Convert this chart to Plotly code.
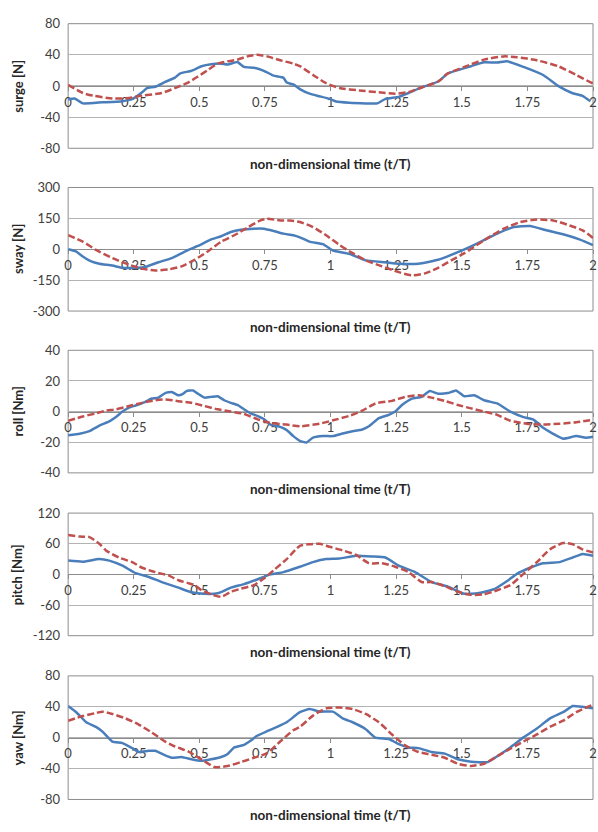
import plotly.graph_objects as go

# ---------------- data ----------------
tick_vals = [0, 0.25, 0.5, 0.75, 1, 1.25, 1.5, 1.75, 2]
tick_text = ["0", "0.25", "0.5", "0.75", "1", "1.25", "1.5", "1.75", "2"]

panel_titles = ["surge [N]", "sway [N]", "roll [Nm]", "pitch [Nm]", "yaw [Nm]"]
panel_limits = [80, 300, 40, 120, 80]

surge_t_a = [0, 0.025, 0.056, 0.13, 0.207, 0.244, 0.282, 0.3, 0.332, 0.37, 0.407, 0.426, 0.47, 0.508, 0.545, 0.583, 0.608, 0.645, 0.67, 0.708, 0.746, 0.783, 0.82, 0.833, 0.858, 0.883, 0.92, 0.958, 0.996, 1.021, 1.071, 1.134, 1.178, 1.209, 1.26, 1.297, 1.347, 1.41, 1.447, 1.485, 1.535, 1.585, 1.635, 1.673, 1.735, 1.81, 1.87, 1.92, 1.958, 1.99]
surge_a = [-17.4, -16, -22.4, -21, -19.5, -16.9, -8.2, -2.7, -1, 5.2, 10.7, 16, 19.5, 25.4, 28, 28.7, 27.6, 30.8, 24.5, 23.3, 19.5, 13.2, 10.7, 4.4, 1.9, -4, -9.9, -13.2, -16.6, -20, -21.6, -22.4, -22.4, -16.6, -14, -9, -1.9, 5.7, 16.1, 20.4, 25.4, 30.4, 30, 31.7, 24.5, 14.1, -0.6, -9, -12.4, -19.5]
surge_t_b = [0, 0.056, 0.094, 0.169, 0.232, 0.282, 0.357, 0.407, 0.457, 0.494, 0.532, 0.57, 0.608, 0.645, 0.683, 0.72, 0.758, 0.808, 0.858, 0.883, 0.933, 0.983, 1.034, 1.109, 1.184, 1.246, 1.297, 1.347, 1.41, 1.447, 1.51, 1.585, 1.66, 1.71, 1.786, 1.87, 1.936, 2.0]
surge_b = [1.5, -9, -12.4, -16.1, -15.5, -12.4, -9, -2.7, 4.4, 12, 20.4, 28.7, 31.7, 33.8, 38, 40, 38, 33, 28.7, 25.4, 14.1, 3.6, -2.7, -5.7, -8.2, -9.9, -7.8, -1.9, 5.7, 16.1, 24.5, 33.8, 38, 37, 33, 25, 14.1, 3]

sway_t_a = [0, 0.031, 0.056, 0.088, 0.119, 0.169, 0.207, 0.257, 0.294, 0.344, 0.395, 0.445, 0.494, 0.545, 0.583, 0.62, 0.658, 0.708, 0.746, 0.783, 0.82, 0.858, 0.883, 0.92, 0.971, 1.009, 1.071, 1.134, 1.209, 1.26, 1.335, 1.41, 1.485, 1.56, 1.635, 1.698, 1.76, 1.823, 1.886, 1.948, 2.0]
sway_a = [0, -11, -35, -59, -70, -79, -90, -90, -86, -63, -43, -11, 16, 48, 63, 84, 95, 100, 100, 89, 76, 68, 58, 37, 25, -6, -22, -54, -63, -70, -70, -51, -14, 29, 76, 108, 113, 92, 73, 48, 20]
sway_t_b = [0, 0.056, 0.106, 0.169, 0.232, 0.282, 0.332, 0.382, 0.432, 0.482, 0.532, 0.583, 0.633, 0.683, 0.733, 0.758, 0.808, 0.846, 0.883, 0.933, 0.983, 1.034, 1.084, 1.134, 1.196, 1.26, 1.31, 1.36, 1.41, 1.46, 1.51, 1.585, 1.66, 1.723, 1.786, 1.848, 1.91, 1.96, 2.0]
sway_b = [68, 37, -3, -43, -75, -94, -103, -98, -83, -51, -11, 37, 68, 105, 140, 148, 140, 140, 132, 108, 68, 21, -19, -54, -83, -111, -127, -117, -90, -54, -19, 44, 100, 132, 144, 140, 116, 92, 55]

roll_t_a = [0, 0.044, 0.081, 0.119, 0.157, 0.182, 0.207, 0.232, 0.257, 0.294, 0.319, 0.344, 0.37, 0.395, 0.42, 0.439, 0.451, 0.476, 0.494, 0.52, 0.545, 0.57, 0.595, 0.62, 0.645, 0.67, 0.695, 0.72, 0.746, 0.771, 0.808, 0.833, 0.858, 0.883, 0.908, 0.933, 0.971, 1.009, 1.046, 1.084, 1.121, 1.146, 1.184, 1.222, 1.246, 1.272, 1.31, 1.347, 1.378, 1.41, 1.447, 1.478, 1.51, 1.547, 1.585, 1.635, 1.685, 1.735, 1.773, 1.81, 1.848, 1.886, 1.936, 1.973, 2.0]
roll_a = [-15.5, -14.5, -12.8, -9.1, -6.4, -3.6, 0, 2.6, 4, 6.4, 8.5, 9.1, 12.1, 12.8, 10.6, 11.7, 13.4, 13.8, 11.7, 9.1, 9.6, 10, 7.4, 5.7, 4.3, 1.5, -1.1, -2.8, -4.9, -8.5, -10, -12.1, -16, -19.1, -20.2, -17, -16, -16, -14.3, -12.8, -11.7, -9.6, -4.3, -2.1, 0, 4.3, 8.5, 9.6, 13.4, 11.7, 12.1, 13.8, 10, 10.6, 7.4, 5.3, 0, -3.6, -5.3, -10.6, -14.5, -17.7, -16, -17, -16.4]
roll_t_b = [0, 0.056, 0.106, 0.144, 0.182, 0.232, 0.282, 0.332, 0.37, 0.42, 0.47, 0.52, 0.57, 0.62, 0.67, 0.72, 0.771, 0.833, 0.883, 0.958, 1.009, 1.071, 1.121, 1.171, 1.234, 1.284, 1.335, 1.385, 1.435, 1.485, 1.535, 1.585, 1.635, 1.685, 1.748, 1.81, 1.873, 1.936, 2.0]
roll_b = [-6, -3.2, -1.1, 0.6, 1.5, 3.6, 5.7, 7.4, 7.9, 6.8, 5.7, 3.6, 1.5, 0, -1.5, -4.9, -7.4, -8.5, -9.6, -7.9, -5.7, -2.8, 0.6, 5.3, 7, 9.6, 10.6, 9.1, 7, 4.3, 2.1, 0, -2.1, -6, -7.9, -8.5, -7.9, -7, -5.3]

pitch_t_a = [0, 0.056, 0.119, 0.157, 0.207, 0.257, 0.307, 0.357, 0.42, 0.47, 0.52, 0.57, 0.62, 0.67, 0.72, 0.771, 0.82, 0.883, 0.933, 0.983, 1.034, 1.096, 1.159, 1.209, 1.26, 1.322, 1.385, 1.447, 1.51, 1.56, 1.623, 1.673, 1.71, 1.76, 1.81, 1.873, 1.923, 1.96, 2.0]
pitch_a = [27, 25, 30, 27, 17, 2.6, -5, -15, -26, -35, -38, -37, -26, -19, -10, 0, 4.5, 15, 24, 30, 31, 36.5, 35, 33, 17, 4.5, -15, -24, -38, -37, -29, -13, 1, 13, 22, 24, 33, 40, 36.5]
pitch_t_b = [0, 0.044, 0.081, 0.119, 0.144, 0.194, 0.244, 0.282, 0.332, 0.382, 0.42, 0.457, 0.482, 0.508, 0.545, 0.583, 0.62, 0.658, 0.708, 0.746, 0.783, 0.833, 0.883, 0.92, 0.958, 0.996, 1.046, 1.096, 1.146, 1.196, 1.246, 1.297, 1.347, 1.385, 1.435, 1.485, 1.535, 1.585, 1.635, 1.685, 1.735, 1.786, 1.836, 1.886, 1.923, 1.96, 2.0]
pitch_b = [77, 74, 73, 60, 47, 33, 24, 13, 4.5, -2, -11.5, -17, -21, -31, -39, -44, -34, -28, -21, -8, 8, 30, 56, 59, 60, 54, 47, 38.5, 22, 22, 15, 4.5, -15, -15, -23, -34, -40, -39, -31, -21, 1, 24, 49, 61.5, 59, 49, 43]

yaw_t_a = [0, 0.031, 0.069, 0.106, 0.132, 0.169, 0.207, 0.244, 0.269, 0.307, 0.332, 0.37, 0.395, 0.432, 0.47, 0.508, 0.545, 0.583, 0.608, 0.633, 0.67, 0.695, 0.72, 0.758, 0.796, 0.833, 0.883, 0.92, 0.958, 1.009, 1.046, 1.084, 1.134, 1.171, 1.222, 1.26, 1.297, 1.335, 1.385, 1.435, 1.485, 1.535, 1.598, 1.635, 1.685, 1.735, 1.786, 1.836, 1.886, 1.923, 1.96, 2.0]
yaw_a = [41, 33, 20, 14, 7.6, -5, -7, -13.5, -18.5, -17, -17, -23, -26, -25, -28, -30, -28, -25, -21, -12.6, -9.3, -4, 2.5, 8.4, 14, 20, 33, 37, 33.7, 33.7, 25, 20, 11, 0, -1.7, -8.4, -12.6, -13.5, -18.5, -20.6, -28, -31, -31.6, -24, -12.6, 0.4, 11.8, 25, 33, 41, 40, 38]
yaw_t_b = [0, 0.056, 0.106, 0.132, 0.169, 0.219, 0.269, 0.319, 0.37, 0.407, 0.457, 0.508, 0.558, 0.608, 0.658, 0.708, 0.758, 0.808, 0.858, 0.883, 0.933, 0.983, 1.034, 1.084, 1.134, 1.184, 1.234, 1.284, 1.335, 1.385, 1.435, 1.485, 1.535, 1.585, 1.635, 1.685, 1.735, 1.786, 1.836, 1.886, 1.936, 2.0]
yaw_b = [22, 28, 32, 33.7, 30.7, 25, 17, 6.7, -5, -11.4, -17.7, -28, -38, -36.6, -31.6, -26, -20, -5, 9.7, 14, 28.6, 38, 39, 37, 30.7, 20, 4.2, -10, -18.5, -22, -26, -33.7, -36.6, -33.7, -24, -14.3, -5, 4.2, 14, 22, 33, 43]

series = [
    (surge_t_a, surge_a, surge_t_b, surge_b),
    (sway_t_a, sway_a, sway_t_b, sway_b),
    (roll_t_a, roll_a, roll_t_b, roll_b),
    (pitch_t_a, pitch_a, pitch_t_b, pitch_b),
    (yaw_t_a, yaw_a, yaw_t_b, yaw_b),
]
for ta, a, tb, b in series:
    assert len(ta) == len(a) and len(tb) == len(b)

# ---------------- layout ----------------
W, H = 598, 832
X0, X1 = 65, 597
panel_px = [(16, 143), (183, 309), (349, 474), (515, 640), (681, 807)]

BLUE = "#4a7ebb"
RED = "#c0504d"
GRID = "#b3b3b3"
BORDER = "#8c8c8c"
FONT = "Lato"


def fmt(v):
    v = int(v) if float(v).is_integer() else v
    return str(v)  # plain hyphen-minus, as in the reference


fig = go.Figure()
layout = dict(
    width=W, height=H,
    margin=dict(l=0, r=0, t=0, b=0),
    paper_bgcolor="white", plot_bgcolor="white",
    showlegend=False,
    font=dict(family=FONT, size=13, color="#404040"),
)
shapes, annotations = [], []

for i, ((ta, a, tb, b), title, lim, (top, bot)) in enumerate(
        zip(series, panel_titles, panel_limits, panel_px)):
    n = "" if i == 0 else str(i + 1)
    xname, yname = "x" + n, "y" + n
    ydom = [1 - bot / H, 1 - top / H]
    ytv = [-lim, -lim / 2, 0, lim / 2, lim]
    layout["xaxis" + n] = dict(
        domain=[X0 / W, X1 / W], range=[0, 2], anchor="free",
        position=(ydom[0] + ydom[1]) / 2,
        tickvals=tick_vals, ticktext=tick_text,
        ticks="outside", ticklen=4, tickcolor=BORDER,
        ticklabeloverflow="allow",
        showline=True, linecolor=BORDER, linewidth=1,
        showgrid=False, zeroline=False, layer="below traces",
        tickfont=dict(family=FONT, size=13, color="#404040"),
    )
    layout["yaxis" + n] = dict(
        domain=ydom, anchor=xname, range=[-lim, lim],
        tickvals=ytv, ticktext=[fmt(v) for v in ytv],
        showgrid=True, gridcolor=GRID, gridwidth=1, zeroline=False,
        ticks="", ticklabelstandoff=7, showline=False,
        tickfont=dict(family=FONT, size=13, color="#404040"),
    )
    fig.add_trace(go.Scatter(x=ta, y=a, mode="lines", xaxis=xname, yaxis=yname,
                             line=dict(color=BLUE, width=2.5, shape="spline", smoothing=0.4),
                             name="measured"))
    fig.add_trace(go.Scatter(x=tb, y=b, mode="lines", xaxis=xname, yaxis=yname,
                             line=dict(color=RED, width=2.5, dash="7px,3px", shape="spline", smoothing=0.6),
                             name="predicted"))
    shapes.append(dict(type="rect", xref=xname + " domain", yref=yname + " domain",
                       x0=0, x1=1, y0=0, y1=1, line=dict(color=BORDER, width=1),
                       layer="below"))
    annotations.append(dict(text="<b>" + title + "</b>", xref="paper", yref=yname + " domain",
                            x=14 / W, y=0.5, xanchor="center", yanchor="middle",
                            textangle=-90, showarrow=False,
                            font=dict(family=FONT, size=13, color="#262626")))
    annotations.append(dict(text="<b>non-dimensional time (t/T)</b>",
                            xref=xname + " domain", yref=yname + " domain",
                            x=0.5, y=0, xanchor="center", yanchor="top", yshift=-6,
                            showarrow=False,
                            font=dict(family=FONT, size=13.5, color="#262626")))

layout["shapes"] = shapes
layout["annotations"] = annotations
fig.update_layout(**layout)
fig.write_html("out.html")
